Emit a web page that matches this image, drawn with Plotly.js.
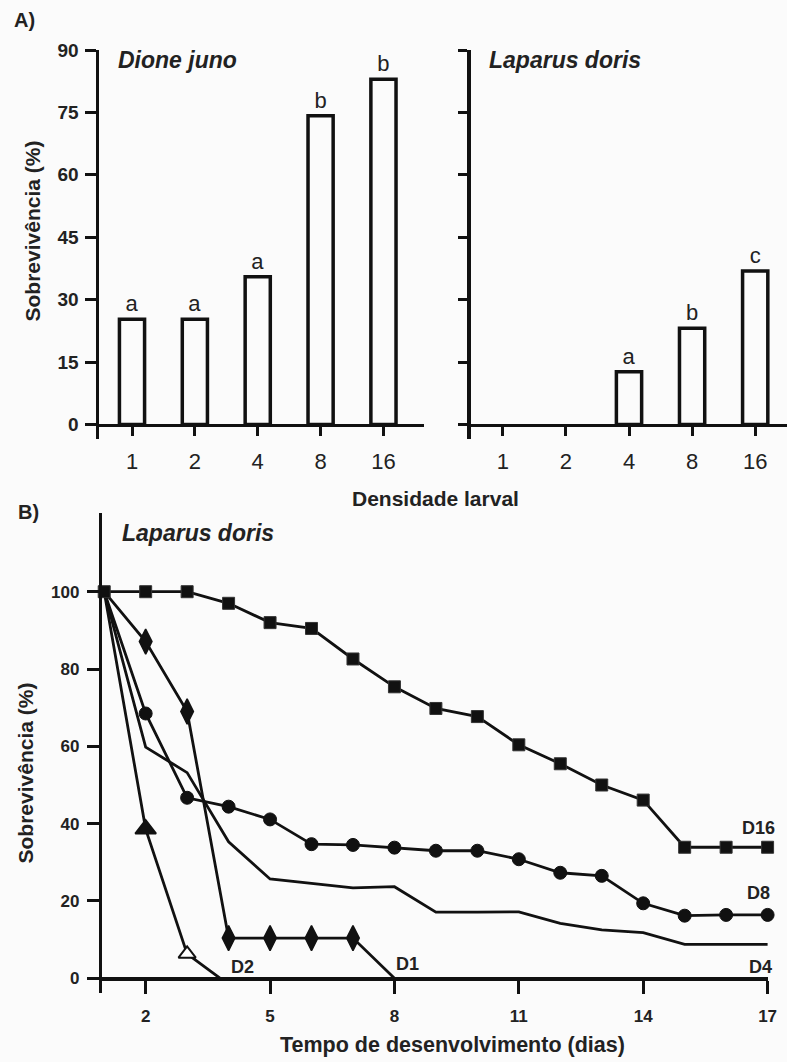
<!DOCTYPE html>
<html>
<head>
<meta charset="utf-8">
<script src="https://cdn.plot.ly/plotly-3.0.1.min.js"></script>
<style>
  html, body { margin: 0; padding: 0; background: #fbfbfb; }
  #chart { width: 787px; height: 1062px; }
</style>
</head>
<body>
<div id="chart"></div>
<script>
// ---- Panel A: survival (%) by larval density ----
const densities = ['1', '2', '4', '8', '16'];
const survivalDioneJuno = [25.3, 25.3, 35.5, 74.2, 83.0];
const lettersDioneJuno = ['a', 'a', 'a', 'b', 'b'];
const survivalLaparusDoris = [0, 0, 12.7, 23.1, 36.9];
const lettersLaparusDoris = ['', '', 'a', 'b', 'c'];
const survivalTicks = [0, 15, 30, 45, 60, 75, 90];

// ---- Panel B: Laparus doris survival (%) over development time (days) ----
const daysFull = [1, 2, 3, 4, 5, 6, 7, 8, 9, 10, 11, 12, 13, 14, 15, 16, 17];
const survD16 = [100, 100, 100, 97.0, 92.0, 90.5, 82.6, 75.4, 69.8, 67.7, 60.4, 55.5, 50.0, 46.1, 33.9, 33.9, 33.9];
const survD8 = [100, 68.5, 46.7, 44.4, 41.1, 34.7, 34.5, 33.8, 33.0, 33.0, 30.8, 27.3, 26.5, 19.4, 16.2, 16.4, 16.4];
const survD4 = [100, 59.8, 53.2, 35.3, 25.7, 24.6, 23.4, 23.7, 17.1, 17.1, 17.2, 14.2, 12.5, 11.8, 8.8, 8.8, 8.8];
const daysD1 = [1, 2, 3, 4, 5, 6, 7, 8];
const survD1 = [100, 87.1, 69.0, 10.4, 10.4, 10.4, 10.4, 0];
const daysD2 = [1, 2, 3, 3.8];
const survD2 = [100, 38.6, 6.3, 0];
const timeTicks = [2, 5, 8, 11, 14, 17];
const percentTicks = [0, 20, 40, 60, 80, 100];

const INK = '#111';
const TEXT = '#222';
const BG = '#fbfbfb';
const FONT = 'Liberation Sans, Arial, Helvetica, sans-serif';

// paper helpers (layout is drawn with zero margins)
const W = 787, H = 1062;
const px = v => v / W;
const py = v => 1 - v / H;

function barTrace(values, letters, xa, ya) {
  return {
    type: 'bar', x: densities, y: values, xaxis: xa, yaxis: ya,
    width: 0.4,
    // empty (zero) bars get no outline
    marker: { color: BG, line: { color: INK, width: values.map(v => v > 0 ? 3.5 : 0) } },
    text: letters, textposition: 'outside', constraintext: 'none',
    textfont: { family: FONT, size: 22, color: TEXT },
    cliponaxis: false, hoverinfo: 'skip', showlegend: false
  };
}

// hide the shared starting marker (covered by the D16 square) and end points at 0
function markerSizes(values, size) {
  return values.map((v, i) => (i === 0 || v === 0) ? 0 : size);
}

const traces = [
  barTrace(survivalDioneJuno, lettersDioneJuno, 'x', 'y'),
  barTrace(survivalLaparusDoris, lettersLaparusDoris, 'x2', 'y2'),
  { // D4: line only
    type: 'scatter', mode: 'lines', x: daysFull, y: survD4, xaxis: 'x3', yaxis: 'y3',
    line: { color: INK, width: 2.8 }, showlegend: false, cliponaxis: false
  },
  { // D2: triangles, the last one open
    type: 'scatter', mode: 'lines+markers', x: daysD2, y: survD2, xaxis: 'x3', yaxis: 'y3',
    line: { color: INK, width: 2.8 },
    marker: {
      symbol: 'triangle-up', opacity: 1,
      size: markerSizes(survD2, 18).map((s, i) => i === 2 ? 15 : s),
      color: survD2.map((v, i) => i === 2 ? '#ffffff' : INK),
      line: { color: INK, width: 2 }
    },
    showlegend: false, cliponaxis: false
  },
  { // D1: tall diamonds
    type: 'scatter', mode: 'lines+markers', x: daysD1, y: survD1, xaxis: 'x3', yaxis: 'y3',
    line: { color: INK, width: 2.8 },
    marker: { symbol: 'diamond-tall', opacity: 1, size: markerSizes(survD1, 18), color: INK, line: { color: INK, width: 1.5 } },
    showlegend: false, cliponaxis: false
  },
  { // D8: circles
    type: 'scatter', mode: 'lines+markers', x: daysFull, y: survD8, xaxis: 'x3', yaxis: 'y3',
    line: { color: INK, width: 2.8 },
    marker: { symbol: 'circle', opacity: 1, size: markerSizes(survD8, 13), color: INK, line: { color: INK, width: 1 } },
    showlegend: false, cliponaxis: false
  },
  { // D16: squares
    type: 'scatter', mode: 'lines+markers', x: daysFull, y: survD16, xaxis: 'x3', yaxis: 'y3',
    line: { color: INK, width: 2.8 },
    marker: { symbol: 'square', opacity: 1, size: 12, color: INK, line: { color: '#333', width: 1 } },
    showlegend: false, cliponaxis: false
  }
];

const axisBase = {
  showline: true, linecolor: INK, linewidth: 3.5,
  ticks: 'outside', tickcolor: INK, tickwidth: 3,
  showgrid: false, zeroline: false, fixedrange: true
};

const layout = {
  width: W, height: H,
  margin: { l: 0, r: 0, t: 0, b: 0 },
  paper_bgcolor: BG, plot_bgcolor: BG,
  font: { family: FONT, color: TEXT },
  bargap: 0,
  // Panel A, Dione juno
  xaxis: Object.assign({}, axisBase, {
    domain: [px(99), px(424)], type: 'category', range: [-0.525, 4.645],
    anchor: 'free', position: py(424.5), ticklen: 9,
    tickfont: { family: FONT, size: 22, color: TEXT }, ticklabelstandoff: 7
  }),
  yaxis: Object.assign({}, axisBase, {
    domain: [py(439), py(50)], range: [-3.49, 90], anchor: 'x',
    tickvals: survivalTicks, ticklen: 11,
    tickfont: { family: FONT, size: 19, color: TEXT, weight: 'bold' }, ticklabelstandoff: 2
  }),
  // Panel A, Laparus doris
  xaxis2: Object.assign({}, axisBase, {
    domain: [px(470.7), 1], type: 'category', range: [-0.509, 4.504],
    anchor: 'free', position: py(424.5), ticklen: 9,
    tickfont: { family: FONT, size: 22, color: TEXT }, ticklabelstandoff: 7
  }),
  yaxis2: Object.assign({}, axisBase, {
    domain: [py(439), py(50)], range: [-3.49, 90], anchor: 'x2',
    tickvals: survivalTicks, ticklen: 9, showticklabels: false
  }),
  // Panel B
  xaxis3: Object.assign({}, axisBase, {
    domain: [px(102.3), px(768)], range: [0.954, 17.01],
    anchor: 'free', position: py(978.3), ticklen: 13,
    tickvals: timeTicks,
    tickfont: { family: FONT, size: 17, color: TEXT, weight: 'bold' }, ticklabelstandoff: 8
  }),
  yaxis3: Object.assign({}, axisBase, {
    domain: [py(993), py(513)], range: [-3.8, 120.36], anchor: 'x3',
    tickvals: percentTicks, ticklen: 12,
    tickfont: { family: FONT, size: 17, color: TEXT, weight: 'bold' }, ticklabelstandoff: 4
  }),
  annotations: [
    { text: 'A)', xref: 'paper', yref: 'paper', x: px(12), y: py(20), xanchor: 'left', yanchor: 'middle',
      showarrow: false, font: { family: FONT, size: 20, color: TEXT, weight: 'bold' } },
    { text: 'B)', xref: 'paper', yref: 'paper', x: px(16), y: py(512), xanchor: 'left', yanchor: 'middle',
      showarrow: false, font: { family: FONT, size: 20, color: TEXT, weight: 'bold' } },
    { text: 'Dione juno', xref: 'paper', yref: 'paper', x: px(116), y: py(60), xanchor: 'left', yanchor: 'middle',
      showarrow: false, font: { family: FONT, size: 23, color: TEXT, weight: 'bold', style: 'italic' } },
    { text: 'Laparus doris', xref: 'paper', yref: 'paper', x: px(487), y: py(60), xanchor: 'left', yanchor: 'middle',
      showarrow: false, font: { family: FONT, size: 23, color: TEXT, weight: 'bold', style: 'italic' } },
    { text: 'Laparus doris', xref: 'paper', yref: 'paper', x: px(120), y: py(533), xanchor: 'left', yanchor: 'middle',
      showarrow: false, font: { family: FONT, size: 23, color: TEXT, weight: 'bold', style: 'italic' } },
    { text: 'Densidade larval', xref: 'paper', yref: 'paper', x: px(435), y: py(498), xanchor: 'center', yanchor: 'middle',
      showarrow: false, font: { family: FONT, size: 21, color: TEXT, weight: 'bold' } },
    { text: 'Tempo de desenvolvimento (dias)', xref: 'paper', yref: 'paper', x: px(452), y: py(1045), xanchor: 'center', yanchor: 'middle',
      showarrow: false, font: { family: FONT, size: 21.5, color: TEXT, weight: 'bold' } },
    { text: 'Sobrevivência (%)', xref: 'paper', yref: 'paper', x: px(32.5), y: py(231), xanchor: 'center', yanchor: 'middle',
      textangle: -90, showarrow: false, font: { family: FONT, size: 21, color: TEXT, weight: 'bold' } },
    { text: 'Sobrevivência (%)', xref: 'paper', yref: 'paper', x: px(25), y: py(773.5), xanchor: 'center', yanchor: 'middle',
      textangle: -90, showarrow: false, font: { family: FONT, size: 21, color: TEXT, weight: 'bold' } },
    // series labels in panel B
    { text: 'D16', xref: 'x3', yref: 'y3', x: 16.79, y: 38.8, showarrow: false,
      font: { family: FONT, size: 18, color: TEXT, weight: 'bold' } },
    { text: 'D8', xref: 'x3', yref: 'y3', x: 16.79, y: 22.1, showarrow: false,
      font: { family: FONT, size: 18, color: TEXT, weight: 'bold' } },
    { text: 'D4', xref: 'x3', yref: 'y3', x: 16.83, y: 2.9, showarrow: false,
      font: { family: FONT, size: 18, color: TEXT, weight: 'bold' } },
    { text: 'D1', xref: 'x3', yref: 'y3', x: 8.31, y: 3.7, showarrow: false,
      font: { family: FONT, size: 18, color: TEXT, weight: 'bold' } },
    { text: 'D2', xref: 'x3', yref: 'y3', x: 4.33, y: 3.0, showarrow: false,
      font: { family: FONT, size: 18, color: TEXT, weight: 'bold' } }
  ]
};

Plotly.newPlot('chart', traces, layout, { displayModeBar: false, staticPlot: true });
</script>
</body>
</html>
